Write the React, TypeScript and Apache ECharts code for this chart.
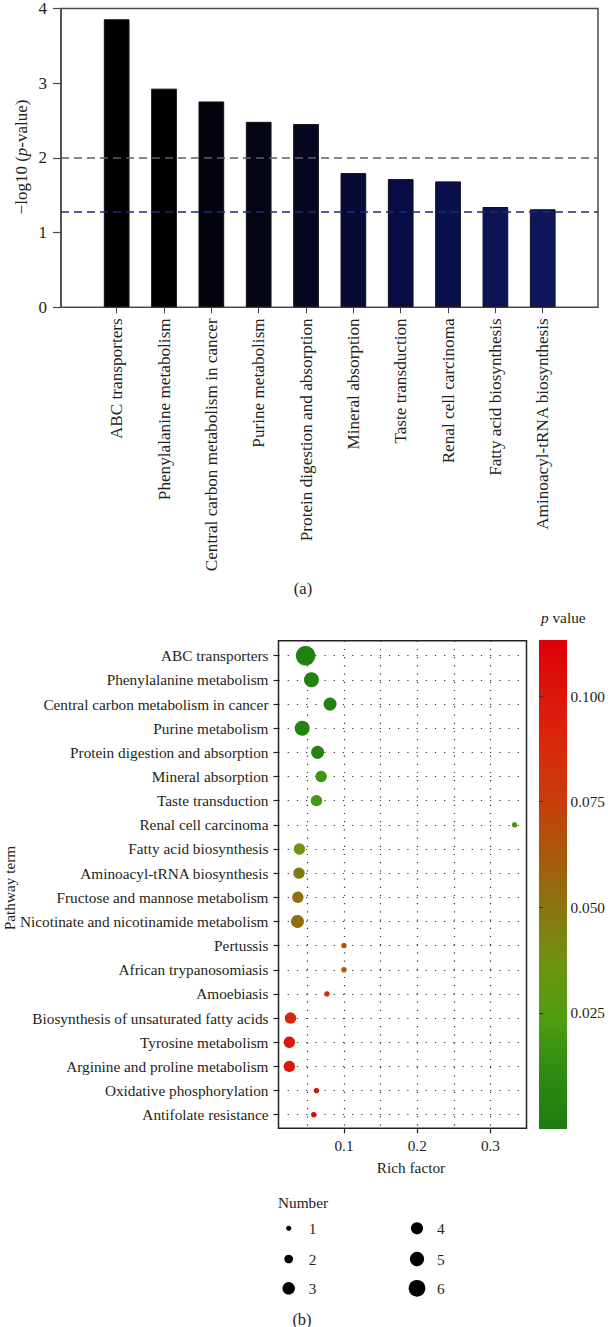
import React, { useEffect, useRef } from "react";
import * as echarts from "echarts";

// ---------- Data: panel (a) ----------
const barCategories = [
  "ABC transporters",
  "Phenylalanine metabolism",
  "Central carbon metabolism in cancer",
  "Purine metabolism",
  "Protein digestion and absorption",
  "Mineral absorption",
  "Taste transduction",
  "Renal cell carcinoma",
  "Fatty acid biosynthesis",
  "Aminoacyl-tRNA biosynthesis",
];
const barValues = [3.82, 2.9, 2.73, 2.46, 2.43, 1.78, 1.7, 1.67, 1.33, 1.3];
const barColors = [
  "#000000", "#010104", "#02030c", "#040616", "#050820",
  "#070a36", "#080c44", "#0a0f4e", "#0c1456", "#0e175c",
];
const thresholdValues = [2, 1.28];

// ---------- Data: panel (b) ----------
const pathways = [
  "ABC transporters",
  "Phenylalanine metabolism",
  "Central carbon metabolism in cancer",
  "Purine metabolism",
  "Protein digestion and absorption",
  "Mineral absorption",
  "Taste transduction",
  "Renal cell carcinoma",
  "Fatty acid biosynthesis",
  "Aminoacyl-tRNA biosynthesis",
  "Fructose and mannose metabolism",
  "Nicotinate and nicotinamide metabolism",
  "Pertussis",
  "African trypanosomiasis",
  "Amoebiasis",
  "Biosynthesis of unsaturated fatty acids",
  "Tyrosine metabolism",
  "Arginine and proline metabolism",
  "Oxidative phosphorylation",
  "Antifolate resistance",
];
const richFactor = [
  0.0476, 0.0556, 0.081, 0.0429, 0.064, 0.0688, 0.0624, 0.3328, 0.0392, 0.0386,
  0.037, 0.0365, 0.1, 0.1, 0.0767, 0.027, 0.0254, 0.0254, 0.0624, 0.0587,
];
const hitNumber = [6, 5, 4, 5, 4, 3, 3, 1, 3, 3, 3, 4, 1, 1, 1, 3, 3, 3, 1, 1];
const pValues = [
  0.00015, 0.0013, 0.0019, 0.0035, 0.0037, 0.0166, 0.02, 0.0214, 0.037, 0.047,
  0.051, 0.052, 0.064, 0.065, 0.086, 0.092, 0.099, 0.1, 0.104, 0.108,
];
const richTicks = [0.1, 0.2, 0.3];
const pTicks = [0.025, 0.05, 0.075, 0.1];
const legendNumbers = [1, 2, 3, 4, 5, 6];

// ---------- Styles ----------
const FONT = "'Liberation Serif', 'Times New Roman', serif";
const TXT = "#231f20";
const sizeOf = (n: number) => [0, 5.5, 8.7, 11.4, 13, 15, 19.5][n];
const legendSizeOf = (n: number) => [0, 5.2, 8.7, 12.5, 12.2, 14.3, 16.7][n];
const cbColors = [
  "#1e7d12", "#2e8a12", "#4e9c12", "#6e9410", "#887610",
  "#a85a0c", "#c83e0a", "#d82a0a", "#dc160a", "#dc0008",
];
const pMin = -0.0025;
const pMax = 0.1133;
const xMin = 0.0106;
const xMax = 0.3492;

export default function App() {
  const ref = useRef<HTMLDivElement>(null);

  useEffect(() => {
    document.body.style.margin = "0";
    if (!ref.current) return;
    const chart = echarts.init(ref.current, null, { renderer: "svg" });

    const F1 = { left: 61, top: 5.7, width: 537, height: 301.6 };
    const band = 47.34;
    const inner = { left: 93, top: 5.7, width: band * 10, height: 301.6 };
    const F2 = { left: 278.5, top: 640.7, width: 248, height: 487.6 };
    const D2 = { left: 278.5, top: 655.7, width: 248, height: 459 };
    const CB = { left: 539, top: 640, width: 28, height: 489 };

    const scatterData = pathways.map((p, i) => [
      richFactor[i],
      p,
      hitNumber[i],
      pValues[i],
    ]);

    const legendGraphics: any[] = [];
    legendNumbers.forEach((n, i) => {
      const col = i < 3 ? 0 : 1;
      const row = i % 3;
      const cx = col === 0 ? 288.7 : 417;
      const cy = [1228.3, 1259, 1288.3][row];
      legendGraphics.push({
        type: "circle",
        shape: { cx, cy, r: legendSizeOf(n) / 2 },
        style: { fill: "#000" },
      });
      legendGraphics.push({
        type: "text",
        x: cx + 20,
        y: cy,
        style: {
          text: String(n),
          fontFamily: FONT,
          fontSize: 15.3,
          fill: TXT,
          align: "left",
          verticalAlign: "middle",
        },
      });
    });

    const option: any = {
      animation: false,
      backgroundColor: "#fff",
      textStyle: { fontFamily: FONT, color: TXT },
      grid: [
        { ...F1, show: true, borderColor: "#4a4a4a", borderWidth: 1.5, backgroundColor: "transparent" },
        { ...inner },
        { ...F2, show: true, borderColor: "#222", borderWidth: 1.5, backgroundColor: "transparent" },
        { ...D2 },
        { ...CB },
      ],
      xAxis: [
        { gridIndex: 0, type: "value", min: 0, max: 1, show: false },
        {
          gridIndex: 1,
          type: "category",
          data: barCategories,
          axisLine: { show: false },
          axisTick: { show: true, alignWithLabel: true, length: 6, lineStyle: { color: "#444", width: 1 } },
          axisLabel: {
            interval: 0,
            rotate: 90,
            margin: 11,
            fontSize: 17.2,
            fontFamily: FONT,
            color: TXT,
          },
        },
        {
          gridIndex: 2,
          type: "value",
          position: "top",
          min: xMin,
          max: xMax,
          minInterval: 0.05,
          maxInterval: 0.05,
          axisLine: { show: false },
          axisTick: { show: false },
          axisLabel: { show: false },
          splitLine: { show: true, lineStyle: { color: "#333", width: 1.2, type: [1.2, 7] } },
        },
        {
          gridIndex: 2,
          type: "value",
          position: "bottom",
          min: xMin,
          max: xMax,
          minInterval: 0.1,
          maxInterval: 0.1,
          axisLine: { show: false },
          axisTick: { show: true, length: 5, customValues: richTicks, lineStyle: { color: "#222", width: 1.2 } },
          axisLabel: {
            customValues: richTicks,
            margin: 10,
            fontSize: 15.3,
            fontFamily: FONT,
            color: TXT,
            formatter: (v: number) => v.toFixed(1),
          },
          splitLine: { show: false },
        },
        { gridIndex: 3, type: "value", min: xMin, max: xMax, show: false },
        { gridIndex: 4, type: "value", min: 0, max: 1, show: false },
      ],
      yAxis: [
        {
          gridIndex: 0,
          type: "value",
          min: 0,
          max: 4,
          interval: 1,
          axisLine: { show: true, lineStyle: { color: "#4a4a4a", width: 1.5 } },
          axisTick: { show: true, length: 8, lineStyle: { color: "#4a4a4a", width: 1.2 } },
          axisLabel: { margin: 14, fontSize: 17, fontFamily: FONT, color: TXT },
          splitLine: { show: false },
        },
        { gridIndex: 1, type: "value", min: 0, max: 4, show: false },
        { gridIndex: 2, type: "value", min: 0, max: 1, show: false },
        {
          gridIndex: 3,
          type: "category",
          data: pathways,
          inverse: true,
          boundaryGap: false,
          axisLine: { show: false },
          axisTick: { show: true, length: 5, lineStyle: { color: "#222", width: 1.2 } },
          axisLabel: { interval: 0, margin: 10, fontSize: 15.3, fontFamily: FONT, color: TXT },
          splitLine: { show: true, interval: 0, lineStyle: { color: "#333", width: 1.2, type: [1.2, 8] } },
        },
        {
          gridIndex: 4,
          type: "value",
          position: "right",
          min: pMin,
          max: pMax,
          minInterval: 0.025,
          maxInterval: 0.025,
          axisLine: { show: false },
          axisTick: { show: true, length: 4, customValues: pTicks, lineStyle: { color: "#333", width: 1 } },
          axisLabel: {
            customValues: pTicks,
            margin: 7,
            fontSize: 15.3,
            fontFamily: FONT,
            color: TXT,
            formatter: (v: number) => v.toFixed(3),
          },
          splitLine: { show: false },
        },
      ],
      visualMap: [
        {
          type: "continuous",
          show: false,
          min: pMin,
          max: pMax,
          dimension: 3,
          seriesIndex: 2,
          inRange: { color: cbColors },
        },
      ],
      series: [
        {
          type: "bar",
          xAxisIndex: 1,
          yAxisIndex: 1,
          barWidth: 25.7,
          data: barValues.map((v, i) => ({
            value: v,
            itemStyle: { color: barColors[i], borderColor: "#111", borderWidth: 1 },
          })),
        },
        {
          type: "line",
          xAxisIndex: 0,
          yAxisIndex: 0,
          data: [],
          silent: true,
          markLine: {
            silent: true,
            symbol: "none",
            label: { show: false },
            data: [
              { yAxis: thresholdValues[0], lineStyle: { color: "#6e5a5a", width: 1.5, type: [8, 5] } },
              { yAxis: thresholdValues[1], lineStyle: { color: "#1c2a7a", width: 1.5, type: [8, 5] } },
            ],
          },
        },
        {
          type: "scatter",
          xAxisIndex: 4,
          yAxisIndex: 3,
          data: scatterData,
          symbolSize: (v: any[]) => sizeOf(v[2] as number),
          itemStyle: { opacity: 1 },
          z: 5,
        },
      ],
      graphic: [
        {
          type: "text",
          x: 21,
          y: 157,
          rotation: Math.PI / 2,
          style: {
            text: "−log10 ({i|p}-value)",
            fontFamily: FONT,
            fontSize: 17,
            fill: TXT,
            align: "center",
            verticalAlign: "middle",
            rich: { i: { fontStyle: "italic", fontFamily: FONT, fontSize: 17, fill: TXT } },
          },
        },
        {
          type: "text",
          x: 303,
          y: 588,
          style: { text: "(a)", fontFamily: FONT, fontSize: 16.5, fill: TXT, align: "center", verticalAlign: "middle" },
        },
        {
          type: "text",
          x: 541,
          y: 617,
          style: {
            text: "{i|p} value",
            fontFamily: FONT,
            fontSize: 15.3,
            fill: TXT,
            align: "left",
            verticalAlign: "middle",
            rich: { i: { fontStyle: "italic", fontFamily: FONT, fontSize: 15.3, fill: TXT } },
          },
        },
        {
          type: "rect",
          shape: { x: CB.left, y: CB.top, width: CB.width, height: CB.height },
          style: {
            fill: new echarts.graphic.LinearGradient(
              0, 1, 0, 0,
              cbColors.map((c, i) => ({ offset: i / (cbColors.length - 1), color: c }))
            ),
          },
          z: -1,
        },
        {
          type: "text",
          x: 9,
          y: 888,
          rotation: Math.PI / 2,
          style: { text: "Pathway term", fontFamily: FONT, fontSize: 15.3, fill: TXT, align: "center", verticalAlign: "middle" },
        },
        {
          type: "text",
          x: 411,
          y: 1167,
          style: { text: "Rich factor", fontFamily: FONT, fontSize: 15.3, fill: TXT, align: "center", verticalAlign: "middle" },
        },
        {
          type: "text",
          x: 278,
          y: 1202,
          style: { text: "Number", fontFamily: FONT, fontSize: 15.3, fill: TXT, align: "left", verticalAlign: "middle" },
        },
        ...legendGraphics,
        {
          type: "text",
          x: 302,
          y: 1319,
          style: { text: "(b)", fontFamily: FONT, fontSize: 16.5, fill: TXT, align: "center", verticalAlign: "middle" },
        },
      ],
    };

    chart.setOption(option);
    return () => chart.dispose();
  }, []);

  return <div ref={ref} style={{ width: 608, height: 1327 }} />;
}
